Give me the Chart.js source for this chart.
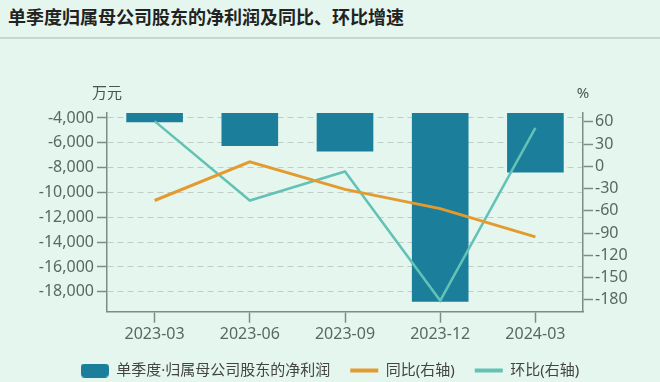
<!DOCTYPE html>
<html>
<head>
<meta charset="utf-8">
<script src="https://cdn.jsdelivr.net/npm/chart.js@4"></script>
<style>
  html, body { margin: 0; padding: 0; width: 660px; height: 382px; overflow: hidden; background: #e5f6ee; }
  .header {
    height: 37px; border-bottom: 2px solid #c4d8cd; padding-left: 8px;
    font: bold 18px "Noto Sans CJK SC", sans-serif; line-height: 33px; color: #222;
  }
  .chart-box { position: relative; width: 660px; height: 349px; }
</style>
</head>
<body>
<div class="header">单季度归属母公司股东的净利润及同比、环比增速</div>
<div class="chart-box"><canvas id="chart"></canvas></div>
<script>
const quarters = ['2023-03', '2023-06', '2023-09', '2023-12', '2024-03'];
const netProfit = [-4350, -6250, -6700, -18800, -8400];   // 万元
const yoyGrowth = [-46, 6, -31, -57, -95];                 // %
const qoqGrowth = [61, -46, -7, -181, 52];                 // %
const leftTicks = [-4000, -6000, -8000, -10000, -12000, -14000, -16000, -18000];
const rightTicks = [60, 30, 0, -30, -60, -90, -120, -150, -180];

const FONT = '"Noto Sans", "Noto Sans CJK SC", sans-serif';
const axisColor = '#7d8c87';
const labelColor = '#5b6763';
const barColor = '#1b7e9b';
const yoyColor = '#e39b2f';
const qoqColor = '#62c2b5';

// legend icon for the bar series
const barIcon = document.createElement('canvas');
barIcon.width = 28;
barIcon.height = 14;
const ictx = barIcon.getContext('2d');
ictx.fillStyle = barColor;
ictx.beginPath();
ictx.roundRect(0, 0, 28, 14, 4);
ictx.fill();
const legendIcons = [barIcon, 'line', 'line'];

// 万元 / % above the two axes
const unitLabels = {
    id: 'unitLabels',
    afterDraw(chart) {
        const { ctx, chartArea } = chart;
        ctx.save();
        ctx.font = '15px ' + FONT;
        ctx.fillStyle = '#4a5551';
        ctx.textAlign = 'center';
        ctx.textBaseline = 'middle';
        ctx.fillText('万元', chartArea.left, chartArea.top - 19);
        ctx.fillText('%', chartArea.right, chartArea.top - 19);
        ctx.restore();
    }
};

new Chart(document.getElementById('chart'), {
    data: {
        labels: quarters,
        datasets: [
            {
                type: 'bar',
                label: '单季度·归属母公司股东的净利润',
                data: netProfit,
                yAxisID: 'y',
                backgroundColor: barColor,
                barPercentage: 0.595,
                categoryPercentage: 1,
                order: 1
            },
            {
                type: 'line',
                label: '同比(右轴)',
                data: yoyGrowth,
                yAxisID: 'y1',
                borderColor: yoyColor,
                backgroundColor: yoyColor,
                borderWidth: 3,
                pointRadius: 0,
                pointHoverRadius: 0,
                tension: 0,
                order: 0
            },
            {
                type: 'line',
                label: '环比(右轴)',
                data: qoqGrowth,
                yAxisID: 'y1',
                borderColor: qoqColor,
                backgroundColor: qoqColor,
                borderWidth: 2.5,
                pointRadius: 0,
                pointHoverRadius: 0,
                tension: 0,
                order: 0
            }
        ]
    },
    options: {
        responsive: true,
        maintainAspectRatio: false,
        animation: false,
        layout: { padding: { top: 74, left: 0, right: 0, bottom: 0 } },
        plugins: {
            tooltip: { enabled: false },
            legend: {
                position: 'bottom',
                labels: {
                    usePointStyle: true,
                    pointStyleWidth: 28,
                    boxHeight: 14,
                    padding: 20,
                    color: '#444',
                    font: { size: 15, family: FONT },
                    sort: (a, b) => a.datasetIndex - b.datasetIndex,
                    generateLabels: chart => Chart.defaults.plugins.legend.labels.generateLabels(chart).map(item => {
                        item.pointStyle = legendIcons[item.datasetIndex];
                        if (item.datasetIndex > 0) item.lineWidth = 4;
                        return item;
                    })
                }
            }
        },
        scales: {
            x: {
                offset: true,
                afterFit: s => { s.height = 31.3; },
                grid: { drawOnChartArea: false, offset: false, tickLength: 11, tickColor: axisColor, tickWidth: 1.5 },
                border: { color: axisColor, width: 1.5 },
                ticks: { color: labelColor, padding: 2, font: { size: 16, family: FONT } }
            },
            y: {
                position: 'left',
                min: -19600,
                max: -3600,
                afterFit: s => { s.width = 107; },
                afterBuildTicks: s => { s.ticks = leftTicks.map(v => ({ value: v })); },
                grid: { color: '#c2cdc8', tickColor: axisColor, tickLength: 10, tickWidth: 1.5 },
                border: { color: axisColor, width: 1.5, dash: [6, 4] },
                ticks: {
                    color: labelColor,
                    padding: 3,
                    font: { size: 16, family: FONT },
                    callback: v => v.toLocaleString('en-US')
                }
            },
            y1: {
                position: 'right',
                min: -196,
                max: 72,
                afterFit: s => { s.width = 77; },
                afterBuildTicks: s => { s.ticks = rightTicks.map(v => ({ value: v })); },
                grid: { drawOnChartArea: false, tickColor: axisColor, tickLength: 10, tickWidth: 1.5 },
                border: { color: axisColor, width: 1.5 },
                ticks: { color: labelColor, padding: 2, font: { size: 16, family: FONT } }
            }
        }
    },
    plugins: [unitLabels]
});
</script>
</body>
</html>
